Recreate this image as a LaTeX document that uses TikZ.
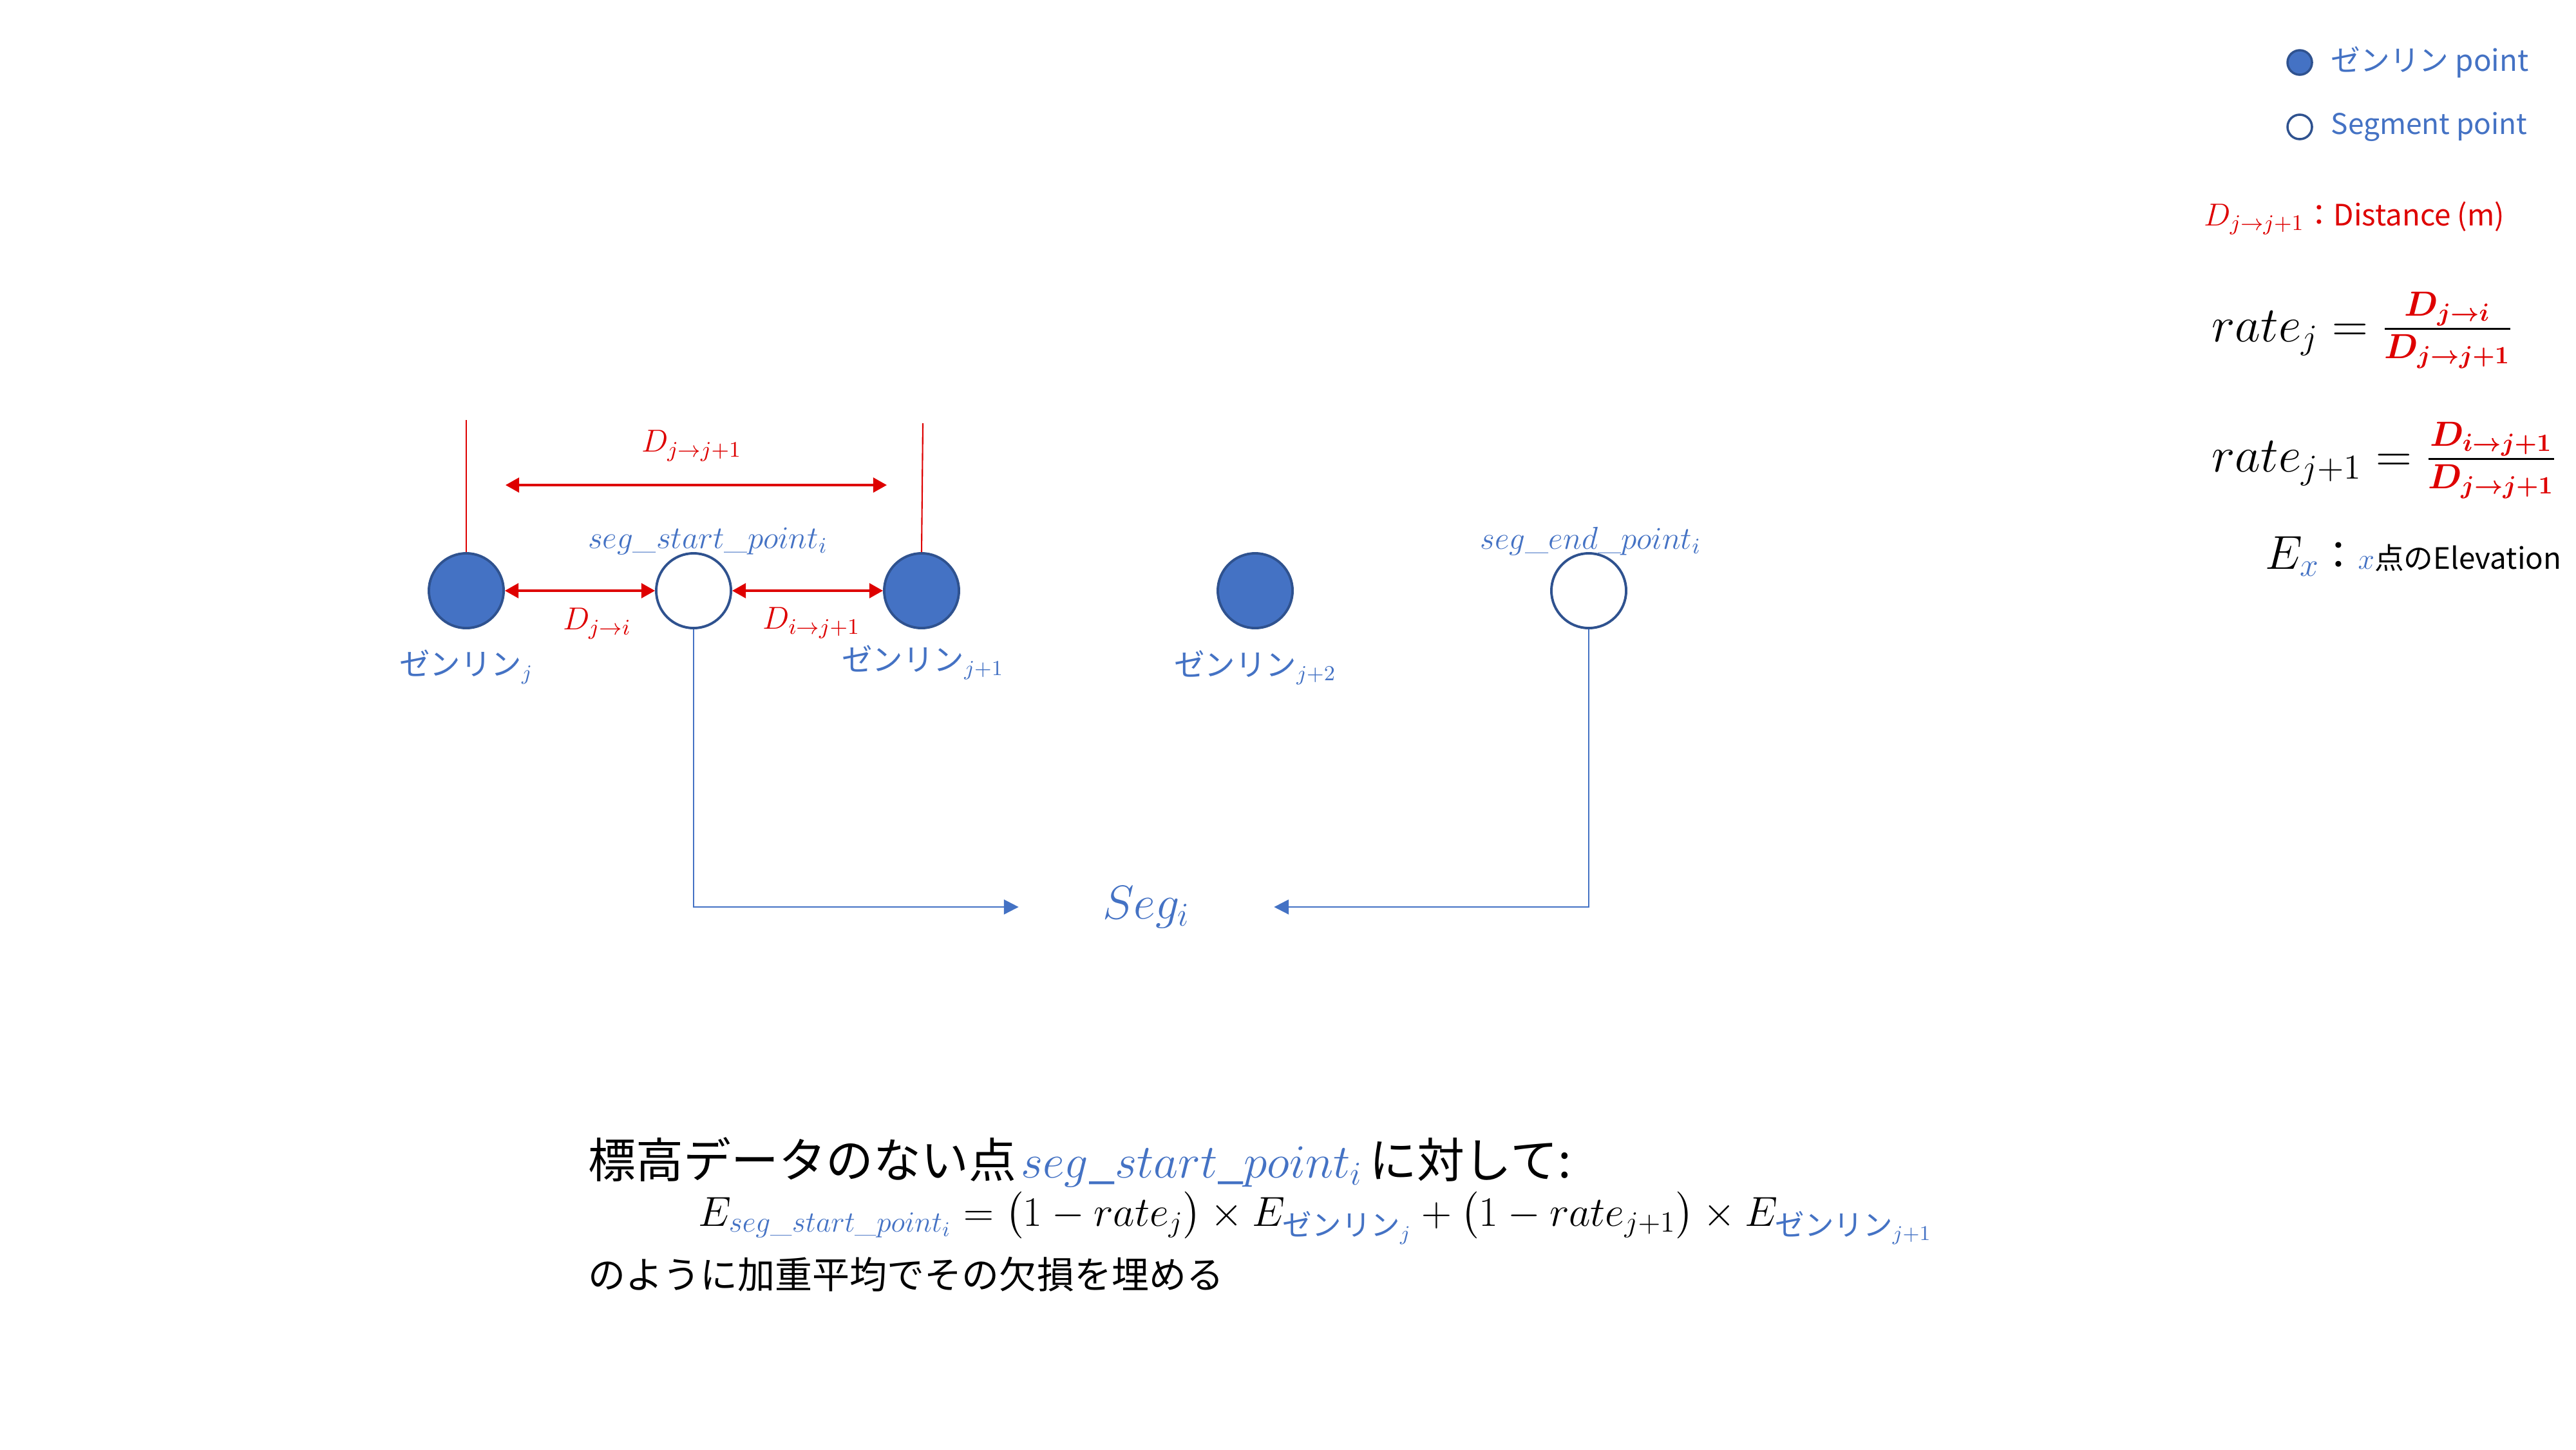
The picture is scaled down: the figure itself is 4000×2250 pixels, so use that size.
\RequirePackage{fix-cm}
\documentclass[tikz,border=0pt]{standalone}
\usepackage{amsmath}
\usepackage{fontspec}
\newfontfamily\jp{Noto Sans CJK JP}
\usetikzlibrary{arrows.meta}
\definecolor{zblue}{HTML}{4472C4}
\definecolor{bdr}{HTML}{2F528F}
\definecolor{dred}{RGB}{222,0,0}
\newcommand\setfs[1]{\fontsize{#1}{#1}\selectfont}
\tikzset{
  zpt/.style={circle, draw=bdr, fill=zblue, line width=1.1pt, minimum size=1.16cm, inner sep=0pt},
  spt/.style={circle, draw=bdr, fill=white, line width=1.1pt, minimum size=1.16cm, inner sep=0pt},
  lbl/.style={text=zblue, inner sep=0pt},
  rlbl/.style={text=dred, inner sep=0pt},
  redline/.style={draw=dred, line width=0.6pt},
  dist/.style={draw=dred, line width=0.9pt, {Triangle[length=6pt,width=6.5pt]}-{Triangle[length=6pt,width=6.5pt]}},
  conn/.style={draw=zblue, line width=0.7pt, -{Triangle[length=6.5pt,width=6.5pt]}},
}
\begin{document}
\begin{tikzpicture}[x=0.01cm, y=-0.01cm]
\fill[white] (0,0) rectangle (4000,2250);
\useasboundingbox (0,0) rectangle (4000,2250);

% points
\node[zpt] (zj)  at (724,917) {};
\node[spt] (s)   at (1077,917) {};
\node[zpt] (zj1) at (1431,917) {};
\node[zpt] (zj2) at (1949,917) {};
\node[spt] (e)   at (2467,917) {};

% point labels
\node[lbl, font=\setfs{13.5}] (lzj)  at (724,1035) {{\jp ゼンリン}$_{j}$};
\node[lbl, font=\setfs{13.5}] (lzj1) at (1433,1028) {{\jp ゼンリン}$_{j+1}$};
\node[lbl, font=\setfs{13.5}] (lzj2) at (1949,1036) {{\jp ゼンリン}$_{j+2}$};
\node[lbl, font=\setfs{14}] (ls) at (1099,840) {$seg\_start\_point_i$};
\node[lbl, font=\setfs{14}] (le) at (2470,840) {$seg\_end\_point_i$};

% red guide lines and distances
\coordinate (tl) at (724,652);
\coordinate (tr) at (1433,657);
\draw[redline] (zj.north) -- (tl);
\draw[redline] (zj1.north) -- (tr);
\coordinate (dl) at (785,753);
\coordinate (dr) at (1377,753);
\draw[dist] (dl) -- (dr);
\draw[dist] (zj.east) -- (s.west);
\draw[dist] (s.east) -- (zj1.west);
\node[rlbl, font=\setfs{14}] (d1) at (1074,692) {$D_{j\to j+1}$};
\node[rlbl, font=\setfs{14}] (d2) at (927,968) {$D_{j\to i}$};
\node[rlbl, font=\setfs{14}] (d3) at (1260,967) {$D_{i\to j+1}$};

% Seg node and connectors
\node[lbl, minimum width=3.95cm, font=\setfs{21}] (seg) at (1780,1408) {$Seg_i$};
\draw[conn] (s.south) |- (seg.west);
\draw[conn] (e.south) |- (seg.east);

% legend
\node[zpt, minimum size=0.38cm, line width=1pt] (lg1) at (3571,97) {};
\node[spt, minimum size=0.38cm, line width=1pt] (lg2) at (3571,197) {};
\node[lbl, anchor=west, font=\jp\setfs{13}] (lt1) at (3619,97) {ゼンリン point};
\node[lbl, anchor=west, font=\jp\setfs{12.6}] (lt2) at (3619,197) {Segment point};
\node[rlbl, anchor=base west] (ld) at (3422,350) {\setfs{14}$D_{j\to j+1}$\jp\setfs{13}：Distance (m)};

% formulas
\node[anchor=west, inner sep=0pt, font=\setfs{22}] (r1) at (3434,513)
  {$rate_j=\frac{\color{dred}\boldsymbol{D_{j\to i}}}{\color{dred}\boldsymbol{D_{j\to j+1}}}$};
\node[anchor=west, inner sep=0pt, font=\setfs{22}] (r2) at (3434,715)
  {$rate_{j+1}=\frac{\color{dred}\boldsymbol{D_{i\to j+1}}}{\color{dred}\boldsymbol{D_{j\to j+1}}}$};
\node[anchor=base west, inner sep=0pt] (ex) at (3517,883)
  {\setfs{21}$E_{\color{zblue}x}$\jp\setfs{17}：\setfs{13}{\color{zblue}$x$}点のElevation};

% bottom text
\node[anchor=base west, inner sep=0pt] (b1) at (913,1828)
  {\jp\setfs{21}標高データのない点\kern2pt{\color{zblue}$seg\_start\_point_i$}\kern3pt に対して:};
\node[anchor=base west, inner sep=0pt] (b2) at (1084,1903)
  {\setfs{18.5}$E_{\color{zblue}seg\_start\_point_i} = \bigl(1 - rate_j\bigr)\times E_{\color{zblue}\text{\jp ゼンリン}_j} + \bigl(1 - rate_{j+1}\bigr)\times E_{\color{zblue}\text{\jp ゼンリン}_{j+1}}$};
\node[anchor=base west, inner sep=0pt] (b3) at (913,2000)
  {\jp\setfs{16.5}のように加重平均でその欠損を埋める};
\end{tikzpicture}
\end{document}
